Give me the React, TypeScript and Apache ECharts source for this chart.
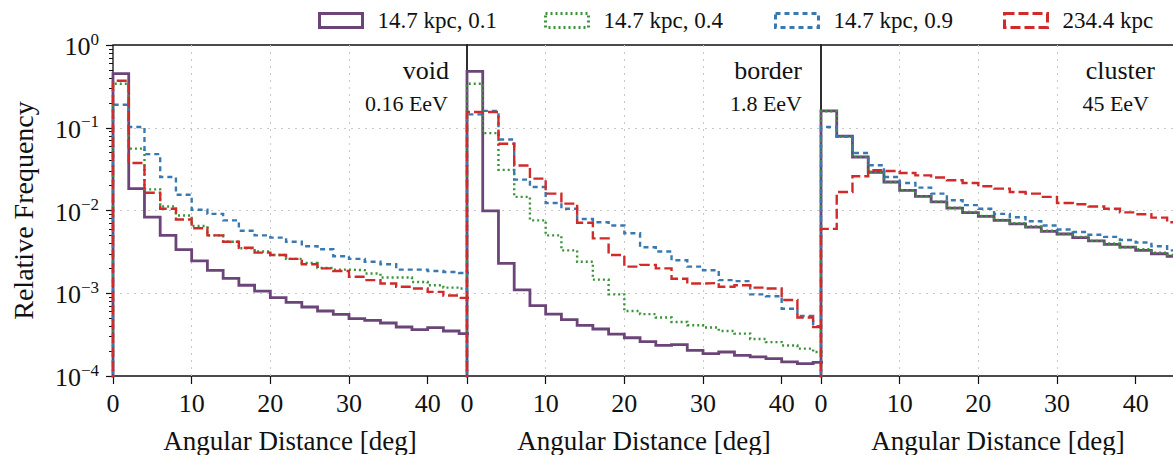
import React, { useEffect, useRef } from "react";
import * as echarts from "echarts";

// ---------- data ----------
const BIN_WIDTH = 2; // degrees per histogram bin
const PANEL_NAMES = ["void", "border", "cluster"];
const PANEL_ENERGIES = ["0.16 EeV", "1.8 EeV", "45 EeV"];
const SERIES_NAMES = ["14.7 kpc, 0.1", "14.7 kpc, 0.4", "14.7 kpc, 0.9", "234.4 kpc"];
const X_TICKS = [0, 10, 20, 30, 40];
const X_LABEL = "Angular Distance [deg]";
const Y_LABEL = "Relative Frequency";

// void, 0.16 EeV
const voidA = [0.45, 0.0184, 0.0083, 0.005, 0.00336, 0.00246, 0.00189, 0.00151, 0.00125, 0.00106, 0.000885, 0.000776, 0.000682, 0.00061, 0.000556, 0.000493, 0.00047, 0.000437, 0.000391, 0.000363, 0.000384, 0.00035, 0.000325];
const voidB = [0.34, 0.056, 0.018, 0.0112, 0.0087, 0.0065, 0.005, 0.0042, 0.0035, 0.0032, 0.0029, 0.0026, 0.00233, 0.00202, 0.00193, 0.0019, 0.00173, 0.00155, 0.00155, 0.00137, 0.00125, 0.00117, 0.00114];
const voidC = [0.19, 0.102, 0.048, 0.0254, 0.0155, 0.0102, 0.0091, 0.0076, 0.0057, 0.005, 0.0047, 0.0042, 0.0037, 0.0034, 0.0028, 0.0026, 0.0024, 0.00224, 0.00193, 0.00193, 0.00186, 0.00181, 0.00176];
const voidD = [0.37, 0.0375, 0.0164, 0.0105, 0.0078, 0.0061, 0.005, 0.0042, 0.00355, 0.0031, 0.0029, 0.0026, 0.00224, 0.002, 0.00186, 0.00158, 0.00144, 0.00131, 0.0012, 0.00114, 0.00104, 0.00094, 0.00088];

// border, 1.8 EeV
const borderA = [0.48, 0.0099, 0.0023, 0.0011, 0.00071, 0.00056, 0.00048, 0.00041, 0.00037, 0.00032, 0.00029, 0.00026, 0.000234, 0.00024, 0.000204, 0.000186, 0.000195, 0.000178, 0.00017, 0.000162, 0.000148, 0.000141, 0.000146];
const borderB = [0.34, 0.086, 0.031, 0.0146, 0.0076, 0.005, 0.0033, 0.0024, 0.00146, 0.00097, 0.00061, 0.00056, 0.00051, 0.00045, 0.00041, 0.000385, 0.00035, 0.000325, 0.00028, 0.000257, 0.000234, 0.000214, 0.000195];
const borderC = [0.145, 0.16, 0.072, 0.0236, 0.0192, 0.0123, 0.0105, 0.0079, 0.0072, 0.0066, 0.0053, 0.0036, 0.0032, 0.0025, 0.0021, 0.0019, 0.00144, 0.0014, 0.00097, 0.00092, 0.00065, 0.00053, 0.0004];
const borderD = [0.155, 0.155, 0.064, 0.035, 0.0243, 0.016, 0.0121, 0.0071, 0.0046, 0.0029, 0.0021, 0.0022, 0.002, 0.0015, 0.00131, 0.00133, 0.0012, 0.00125, 0.00117, 0.00114, 0.00083, 0.00051, 0.00039];

// cluster, 45 EeV
const clusterA = [0.16, 0.079, 0.0443, 0.029, 0.0221, 0.0175, 0.0148, 0.0127, 0.0107, 0.0094, 0.0085, 0.0076, 0.0069, 0.0063, 0.0056, 0.0052, 0.0047, 0.0043, 0.0039, 0.0036, 0.0033, 0.003, 0.0028];
const clusterB = [0.158, 0.078, 0.0445, 0.0292, 0.022, 0.0176, 0.0149, 0.0128, 0.0108, 0.0095, 0.0086, 0.0077, 0.007, 0.0064, 0.0057, 0.0052, 0.0048, 0.0043, 0.004, 0.0036, 0.0034, 0.0031, 0.0029];
const clusterC = [0.102, 0.078, 0.0495, 0.0352, 0.0254, 0.0215, 0.0189, 0.016, 0.0133, 0.0116, 0.0105, 0.0091, 0.0083, 0.0074, 0.0066, 0.0059, 0.0055, 0.0051, 0.0048, 0.0044, 0.0041, 0.0037, 0.0033];
const clusterD = [0.006, 0.0167, 0.0259, 0.0306, 0.03, 0.0284, 0.0266, 0.025, 0.0232, 0.0215, 0.0196, 0.0184, 0.0167, 0.016, 0.0146, 0.0123, 0.0119, 0.0112, 0.0105, 0.0095, 0.009, 0.0082, 0.0072];

const PANEL_DATA = [
  [voidA, voidB, voidC, voidD],
  [borderA, borderB, borderC, borderD],
  [clusterA, clusterB, clusterC, clusterD],
];

// ---------- style / layout ----------
const FONT = "Liberation Serif";
const INK = "#111111";
const STYLES = [
  { color: "#6b4578", width: 2.8, type: "solid" as any },
  { color: "#3a923a", width: 2.4, type: [2, 3] as any },
  { color: "#3a78b0", width: 2.4, type: [5, 4] as any },
  { color: "#d02a2a", width: 2.4, type: [10, 4] as any },
];
const GRID_LEFTS = [113, 467, 821];
const GRID_W = 354;
const GRID_TOP = 45;
const GRID_H = 331;
const LEGEND_LEFTS = [318, 544, 774, 1003];
const TITLE_POS = [
  [449, 70, 448, 103],
  [802, 70, 802, 103],
  [1155, 70, 1149, 103],
];

const FLOOR = 1e-8;
function stepPoints(vals: number[]) {
  const pts: number[][] = [[0, FLOOR]];
  vals.forEach((v, i) => {
    pts.push([i * BIN_WIDTH, v]);
    pts.push([(i + 1) * BIN_WIDTH, v]);
  });
  pts.push([vals.length * BIN_WIDTH, FLOOR]);
  return pts;
}

const MINOR_Y: number[] = [];
for (let e = -4; e < 0; e++) {
  for (let m = 2; m <= 9; m++) MINOR_Y.push(m * Math.pow(10, e));
}

function supLabel(v: number) {
  const e = Math.round(Math.log10(v));
  const s = e < 0 ? "\u2212" + -e : String(e);
  return `{b|10}{s|${s}}`;
}

export default function App() {
  const ref = useRef<HTMLDivElement>(null);
  useEffect(() => {
    if (!ref.current) return;
    const chart = echarts.init(ref.current, undefined, { renderer: "svg" });

    const grid = GRID_LEFTS.map((left) => ({
      left,
      top: GRID_TOP,
      width: GRID_W,
      height: GRID_H,
      show: true,
      containLabel: false,
      outerBoundsMode: "none",
      borderColor: INK,
      borderWidth: 1.3,
      backgroundColor: "transparent",
    }));

    const splitLine = {
      show: true,
      showMinLine: false,
      showMaxLine: false,
      lineStyle: { color: "#c8c8c8", width: 1, type: [2, 5] },
    };

    const xAxis = GRID_LEFTS.map((_, i) => ({
      gridIndex: i,
      type: "value",
      min: 0,
      max: 45,
      interval: 10,
      axisLine: { show: false },
      axisTick: { show: true, length: 8, customValues: X_TICKS, lineStyle: { color: INK, width: 1.2 } },
      axisLabel: { customValues: X_TICKS, fontFamily: FONT, fontSize: 26, color: INK, margin: 14 },
      splitLine,
      name: X_LABEL,
      nameLocation: "middle",
      nameGap: 52,
      nameTextStyle: { fontFamily: FONT, fontSize: 27, color: INK, lineHeight: 26 },
    }));

    const yAxis: any[] = GRID_LEFTS.map((_, i) => ({
      gridIndex: i,
      type: "log",
      logBase: 10,
      position: "left",
      min: 1e-4,
      max: 1,
      splitNumber: 4,
      axisLine: { show: false },
      axisTick: { show: i === 0, length: 7, lineStyle: { color: INK, width: 1.2 } },
      axisLabel: {
        show: i === 0,
        margin: 14,
        formatter: supLabel,
        color: INK,
        fontFamily: FONT,
        fontSize: 26,
        rich: {
          b: { fontFamily: FONT, fontSize: 26, color: INK, padding: [3, 0, 0, 0] },
          s: { fontFamily: FONT, fontSize: 17, color: INK, verticalAlign: "top" },
        },
      },
      splitLine,
      name: i === 0 ? Y_LABEL : "",
      nameLocation: "middle",
      nameGap: 76,
      nameTextStyle: { fontFamily: FONT, fontSize: 28, color: INK },
    }));
    yAxis.push({
      gridIndex: 0,
      type: "log",
      logBase: 10,
      position: "left",
      min: 1e-4,
      max: 1,
      axisLine: { show: false },
      axisLabel: { show: false },
      splitLine: { show: false },
      axisTick: { show: true, length: 4, customValues: MINOR_Y, lineStyle: { color: INK, width: 1 } },
    });

    const series: any[] = [];
    PANEL_DATA.forEach((panel, p) => {
      panel.forEach((vals, k) => {
        series.push({
          type: "line",
          name: SERIES_NAMES[k],
          xAxisIndex: p,
          yAxisIndex: p,
          data: stepPoints(vals),
          showSymbol: false,
          symbol: "none",
          clip: true,
          z: 2 + k,
          lineStyle: { color: STYLES[k].color, width: STYLES[k].width, type: STYLES[k].type, cap: "butt", join: "miter" },
          itemStyle: { color: STYLES[k].color },
          emphasis: { disabled: true },
        });
      });
    });

    const legend = SERIES_NAMES.map((n, k) => ({
      left: LEGEND_LEFTS[k],
      top: 9,
      padding: 0,
      data: [n],
      icon: "rect",
      itemWidth: 43,
      itemHeight: 14,
      selectedMode: false,
      itemStyle: {
        color: "rgba(0,0,0,0)",
        borderColor: STYLES[k].color,
        borderWidth: 3,
        borderType: STYLES[k].type,
      },
      textStyle: { fontFamily: FONT, fontSize: 23, color: INK, padding: [0, 0, 0, 10] },
    }));

    const graphic: any[] = [];
    PANEL_NAMES.forEach((name, p) => {
      const [tx, ty, ex, ey] = TITLE_POS[p];
      graphic.push({
        type: "text",
        x: tx,
        y: ty,
        style: { text: name, fontFamily: FONT, fontSize: 26, fill: INK, textAlign: "right", textVerticalAlign: "middle" },
      });
      graphic.push({
        type: "text",
        x: ex,
        y: ey,
        style: { text: PANEL_ENERGIES[p], fontFamily: FONT, fontSize: 22, fill: INK, textAlign: "right", textVerticalAlign: "middle" },
      });
    });

    chart.setOption({
      animation: false,
      backgroundColor: "#ffffff",
      grid,
      xAxis,
      yAxis,
      legend,
      graphic,
      series,
    });
    return () => chart.dispose();
  }, []);
  return <div ref={ref} style={{ position: "fixed", left: 0, top: 0, width: 1173, height: 455 }} />;
}
